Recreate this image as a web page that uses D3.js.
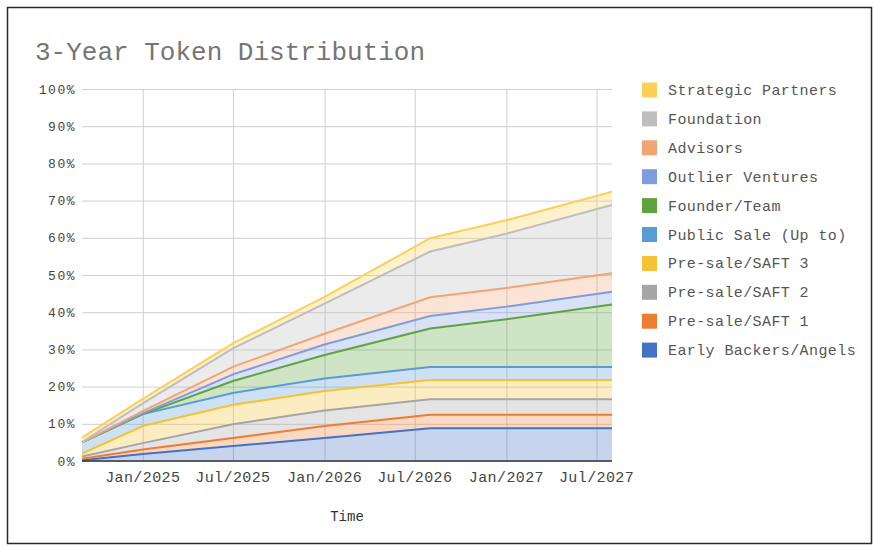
<!DOCTYPE html>
<html>
<head>
<meta charset="utf-8">
<script src="https://cdn.jsdelivr.net/npm/d3@7"></script>
<style>
  body { margin: 0; background: #fff; }
  text { font-family: "Liberation Mono", "Courier New", monospace; }
</style>
</head>
<body>
<div id="chart"></div>
<script>
// dates of the vesting snapshots
var dates = ["2024-09-01", "2025-01-01", "2025-07-01", "2026-01-01", "2026-08-01", "2027-01-01", "2027-08-01"];

// unlocked share of total supply (%) per group, same order as dates
var earlyBackers = [0.2, 1.9, 4.0, 6.2, 8.8, 8.8, 8.8];
var saft1        = [0.4, 1.2, 2.2, 3.2, 3.6, 3.6, 3.6];
var saft2        = [0.6, 1.7, 3.7, 4.2, 4.2, 4.2, 4.2];
var saft3        = [0.8, 4.6, 5.2, 5.2, 5.2, 5.2, 5.2];
var publicSale   = [3.0, 3.2, 3.2, 3.4, 3.5, 3.5, 3.5];
var founderTeam  = [0.0, 0.0, 3.2, 6.3, 10.3, 12.8, 16.8];
var outlier      = [0.0, 0.2, 1.8, 2.8, 3.4, 3.4, 3.4];
var advisors     = [0.0, 0.6, 2.0, 2.9, 5.0, 5.0, 5.0];
var foundation   = [0.1, 2.1, 5.0, 8.1, 12.3, 14.6, 18.3];
var strategic    = [1.2, 1.2, 1.3, 1.8, 3.6, 3.6, 3.6];

// stacking order, bottom to top
var seriesNames = ["Early Backers/Angels", "Pre-sale/SAFT 1", "Pre-sale/SAFT 2", "Pre-sale/SAFT 3",
  "Public Sale (Up to)", "Founder/Team", "Outlier Ventures", "Advisors", "Foundation", "Strategic Partners"];
var seriesValues = [earlyBackers, saft1, saft2, saft3, publicSale, founderTeam, outlier, advisors, foundation, strategic];
var seriesColors = ["#4472c4", "#ed7d31", "#a5a5a5", "#f6c132", "#5b9bd5", "#5fa33e",
  "#7d9de0", "#f1a474", "#bebebe", "#fccf58"];

var yTicks = [0, 10, 20, 30, 40, 50, 60, 70, 80, 90, 100];

(function tokenChart(){
	var W = 874, H = 546;
	var plot = {left: 82, right: 612, top: 89, bottom: 461};

	var svg = d3.select("#chart")
		.append("svg")
			.attr("width", W)
			.attr("height", H);

	svg.append("rect")
		.attr("x", 7.5).attr("y", 7.5)
		.attr("width", 864).attr("height", 536)
		.attr("fill", "#fff")
		.attr("stroke", "#2a2a2a")
		.attr("stroke-width", 1.5);

	var parse = d3.timeParse("%Y-%m-%d");
	var rows = dates.map(function(d, i){
		var r = {date: parse(d)};
		seriesNames.forEach(function(name, k){ r[name] = seriesValues[k][i]; });
		return r;
	});

	var x = d3.scaleTime()
		.domain(d3.extent(rows, function(d){ return d.date; }))
		.range([plot.left, plot.right]);
	var y = d3.scaleLinear()
		.domain([0, 100])
		.range([plot.bottom, plot.top]);

	// gridlines
	var xTicks = d3.timeMonth.every(6).range(new Date(2025, 0, 1), new Date(2027, 7, 2));
	svg.append("g")
		.attr("transform", "translate(0," + plot.bottom + ")")
		.call(d3.axisBottom(x).tickValues(xTicks).tickSize(-(plot.bottom - plot.top)).tickFormat(""))
		.call(function(g){ g.select(".domain").remove(); })
		.call(function(g){ g.selectAll("line").attr("stroke", "#cfcfcf"); });
	svg.append("g")
		.attr("transform", "translate(" + plot.left + ",0)")
		.call(d3.axisLeft(y).tickValues(yTicks).tickSize(-(plot.right - plot.left)).tickFormat(""))
		.call(function(g){ g.select(".domain").remove(); })
		.call(function(g){ g.selectAll("line").attr("stroke", "#cfcfcf"); });

	// stacked areas
	var stack = d3.stack().keys(seriesNames);
	var layers = stack(rows);

	var area = d3.area()
		.x(function(d){ return x(d.data.date); })
		.y0(function(d){ return y(d[0]); })
		.y1(function(d){ return y(d[1]); });
	var line = d3.line()
		.x(function(d){ return x(d.data.date); })
		.y(function(d){ return y(d[1]); });

	svg.append("g").selectAll("path")
		.data(layers)
		.enter().append("path")
			.attr("d", area)
			.attr("fill", function(d, i){ return seriesColors[i]; })
			.attr("fill-opacity", 0.3);

	svg.append("g").selectAll("path")
		.data(layers)
		.enter().append("path")
			.attr("d", line)
			.attr("fill", "none")
			.attr("stroke", function(d, i){ return seriesColors[i]; })
			.attr("stroke-width", 2);

	// baseline
	svg.append("line")
		.attr("x1", plot.left).attr("x2", plot.right)
		.attr("y1", plot.bottom).attr("y2", plot.bottom)
		.attr("stroke", "#333").attr("stroke-width", 1.5);

	// axis labels
	svg.append("g").selectAll("text")
		.data(yTicks)
		.enter().append("text")
			.attr("x", 76)
			.attr("y", function(d){ return y(d) + 4.5; })
			.attr("text-anchor", "end")
			.attr("font-size", "13px")
			.attr("letter-spacing", "1.5px")
			.attr("fill", "#444")
			.text(function(d){ return d + "%"; });

	var fmt = d3.timeFormat("%b/%Y");
	svg.append("g").selectAll("text")
		.data(xTicks)
		.enter().append("text")
			.attr("x", function(d){ return x(d); })
			.attr("y", 482)
			.attr("text-anchor", "middle")
			.attr("font-size", "15px")
			.attr("letter-spacing", "0.4px")
			.attr("fill", "#444")
			.text(function(d){ return fmt(d); });

	svg.append("text")
		.attr("x", (plot.left + plot.right) / 2)
		.attr("y", 521)
		.attr("text-anchor", "middle")
		.attr("font-size", "14px")
		.attr("fill", "#333")
		.text("Time");

	svg.append("text")
		.attr("x", 35)
		.attr("y", 60)
		.attr("font-size", "26px")
		.attr("fill", "#757575")
		.text("3-Year Token Distribution");

	// legend, top entry is the top layer
	var legend = svg.append("g").selectAll("g")
		.data(seriesNames.slice().reverse())
		.enter().append("g")
			.attr("transform", function(d, i){ return "translate(642," + (90 + i * 28.9) + ")"; });
	legend.append("rect")
		.attr("x", 0).attr("y", -7.5)
		.attr("width", 15).attr("height", 15)
		.attr("fill", function(d){ return seriesColors[seriesNames.indexOf(d)]; });
	legend.append("text")
		.attr("x", 26)
		.attr("y", 5)
		.attr("font-size", "15px")
		.attr("letter-spacing", "0.4px")
		.attr("fill", "#555")
		.text(function(d){ return d; });
}());
</script>
</body>
</html>
